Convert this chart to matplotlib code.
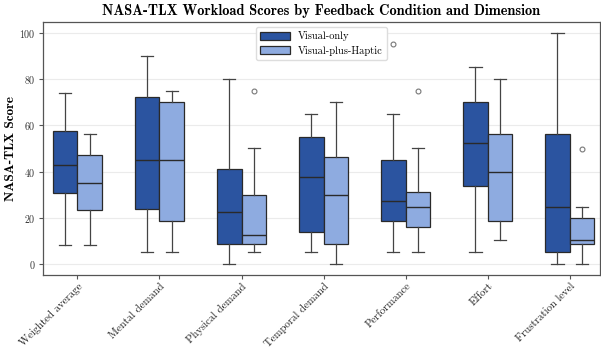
import matplotlib
matplotlib.use("Agg")
import matplotlib.pyplot as plt
from matplotlib.patches import Patch

plt.rcParams['font.family'] = ['cmr10', 'DejaVu Serif']
plt.rcParams['axes.formatter.use_mathtext'] = True
plt.rcParams['mathtext.fontset'] = 'cm'

categories = ["Weighted average", "Mental demand", "Physical demand", "Temporal demand",
              "Performance", "Effort", "Frustration level"]
conditions = ["Visual-only", "Visual-plus-Haptic"]

# Box stats per category: (whisker low, Q1, median, Q3, whisker high)
visual_low = [8.2, 5.1, 0.0, 5.1, 5.1, 5.1, 0.0]
visual_q1 = [30.7, 23.7, 8.7, 13.8, 18.8, 33.9, 5.1]
visual_med = [42.9, 45.1, 22.4, 37.5, 27.3, 52.3, 24.8]
visual_q3 = [57.5, 72.5, 41.0, 54.9, 44.9, 70.2, 56.2]
visual_high = [74.1, 90.1, 80.0, 65.1, 65.1, 85.2, 100.0]
visual_fliers = [[], [], [], [], [95.3], [], []]

haptic_low = [8.2, 5.1, 5.1, 0.0, 5.1, 10.2, 0.0]
haptic_q1 = [23.3, 18.8, 8.7, 8.7, 16.0, 18.8, 8.7]
haptic_med = [35.2, 45.1, 12.4, 30.0, 24.8, 40.0, 10.2]
haptic_q3 = [47.4, 70.2, 29.8, 46.5, 31.1, 56.2, 19.8]
haptic_high = [56.4, 75.1, 50.1, 70.2, 50.1, 80.0, 24.8]
haptic_fliers = [[], [], [75.0], [], [75.1], [], [50.0]]

colors = ["#2b54a0", "#8eabe0"]
edge = "#2a2a2a"


def make_stats(lo, q1, med, q3, hi, fl):
    return [dict(whislo=a, q1=b, med=c, q3=d, whishi=e, fliers=f)
            for a, b, c, d, e, f in zip(lo, q1, med, q3, hi, fl)]


fig = plt.figure(figsize=(6.01, 3.5), dpi=100)
ax = fig.add_axes([0.0715, 0.214, 0.927, 0.723])

ax.yaxis.grid(True, color="#ebebeb", linewidth=0.8)
ax.set_axisbelow(True)

stats_sets = [
    make_stats(visual_low, visual_q1, visual_med, visual_q3, visual_high, visual_fliers),
    make_stats(haptic_low, haptic_q1, haptic_med, haptic_q3, haptic_high, haptic_fliers),
]
offsets = [-0.15, 0.15]
for stats, off, col in zip(stats_sets, offsets, colors):
    pos = [i + off for i in range(len(categories))]
    ax.bxp(stats, positions=pos, widths=0.3, patch_artist=True,
           boxprops=dict(facecolor=col, edgecolor=edge, linewidth=0.9),
           medianprops=dict(color=edge, linewidth=1.0),
           whiskerprops=dict(color="#444444", linewidth=0.9),
           capprops=dict(color="#444444", linewidth=0.9),
           flierprops=dict(marker='o', markersize=3.5, markerfacecolor='none',
                           markeredgecolor='#777777', markeredgewidth=0.8),
           capwidths=0.15)

ax.set_xlim(-0.42, 6.37)
ax.set_ylim(-4.8, 104.8)
ax.set_xticks(range(len(categories)))
ax.set_xticklabels(categories, rotation=45, ha='right', rotation_mode='anchor', fontsize=7.8)
ax.set_yticks([0, 20, 40, 60, 80, 100])
ax.tick_params(axis='y', labelsize=7.2, colors='#555555', labelcolor='#333333', length=3, pad=2)
ax.tick_params(axis='x', colors='#555555', labelcolor='#222222', length=3, pad=1.5)

for s in ax.spines.values():
    s.set_color('#555555')
    s.set_linewidth(0.9)

ax.set_ylabel("NASA-TLX Score", fontsize=9.5, fontfamily=['cmb10', 'DejaVu Serif'], labelpad=2)
ax.set_title("NASA-TLX Workload Scores by Feedback Condition and Dimension",
             fontsize=10.4, fontfamily=['cmb10', 'DejaVu Serif'], pad=5)

handles = [Patch(facecolor=c, edgecolor=edge, linewidth=0.9, label=l) for c, l in zip(colors, conditions)]
ax.legend(handles=handles, loc='upper center', bbox_to_anchor=(0.5, 1.0), fontsize=7.5,
          frameon=True, fancybox=True, framealpha=1.0, edgecolor='#dddddd',
          handlelength=2.8, handleheight=0.9, borderpad=0.4, labelspacing=0.4)

fig.savefig("out.png", dpi=100)
